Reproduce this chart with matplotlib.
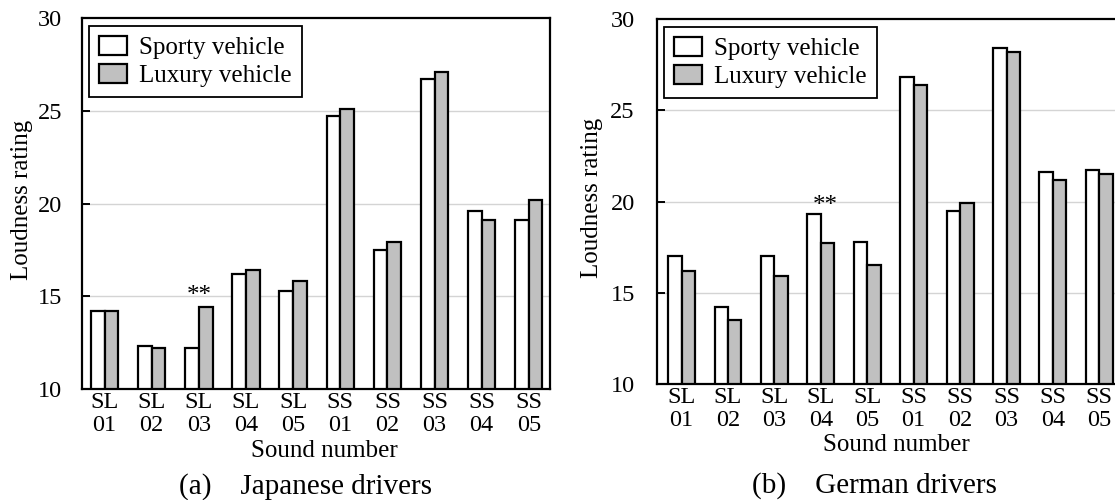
import numpy as np
import matplotlib
matplotlib.use('Agg')
import matplotlib.pyplot as plt

plt.rcParams['font.family'] = ['Liberation Serif', 'DejaVu Serif']

# Sound numbers and ratings
sounds = ['SL\n01', 'SL\n02', 'SL\n03', 'SL\n04', 'SL\n05',
          'SS\n01', 'SS\n02', 'SS\n03', 'SS\n04', 'SS\n05']

jp_sporty = [14.2, 12.3, 12.2, 16.2, 15.3, 24.7, 17.5, 26.7, 19.6, 19.1]
jp_luxury = [14.2, 12.2, 14.4, 16.4, 15.8, 25.1, 17.9, 27.1, 19.1, 20.2]

de_sporty = [17.0, 14.2, 17.0, 19.3, 17.8, 26.8, 19.5, 28.4, 21.6, 21.7]
de_luxury = [16.2, 13.5, 15.9, 17.7, 16.5, 26.4, 19.9, 28.2, 21.2, 21.5]

series_names = ['Sporty vehicle', 'Luxury vehicle']
yticks = [10, 15, 20, 25, 30]

# significance marks: (index of sound, y of baseline)
jp_marks = [(2, 14.7)]
de_marks = [(3.1, 19.4)]

fig = plt.figure(figsize=(11.15, 5), dpi=100)
ax1 = fig.add_axes([0.0731, 0.222, 0.4206, 0.742])
ax2 = fig.add_axes([0.5892, 0.232, 0.4126, 0.730])


def draw_panel(ax, sporty, luxury, marks, xlim, tick_pad, ylab_x, xlab_y, xlab_x):
    x = np.arange(len(sounds))
    w = 0.29
    b1 = ax.bar(x - w / 2, sporty, w, color='white', edgecolor='black',
                linewidth=1.6, zorder=2)
    b2 = ax.bar(x + w / 2, luxury, w, color='#c0c0c0', edgecolor='black',
                linewidth=1.6, zorder=2)
    ax.set_xlim(*xlim)
    ax.set_ylim(10, 30)
    ax.set_yticks(yticks)
    ax.set_xticks(x)
    ax.set_xticklabels(sounds, fontsize=17.5, linespacing=1.15)
    ax.tick_params(axis='x', length=0, pad=2)
    ax.tick_params(axis='y', direction='in', length=6, width=1.4,
                   labelsize=17.5, pad=tick_pad)
    for yv in yticks[1:-1]:
        ax.axhline(yv, color='#d4d4d4', linewidth=1.0, zorder=0)
    for s in ax.spines.values():
        s.set_linewidth(1.6)
    ax.set_ylabel('Loudness rating', fontsize=18)
    ax.yaxis.set_label_coords(ylab_x, 0.51)
    ax.set_xlabel('Sound number', fontsize=18)
    ax.xaxis.set_label_coords(xlab_x, xlab_y)
    for xi, yi in marks:
        ax.text(xi, yi, '**', ha='center', va='baseline', fontsize=18, zorder=3)
    leg = ax.legend([b1, b2], series_names, loc='upper left', fontsize=18,
                    frameon=True, fancybox=False, framealpha=1,
                    edgecolor='black', handlelength=1.12, handleheight=0.8,
                    handletextpad=0.48, borderpad=0.4, labelspacing=0.2,
                    borderaxespad=0.3)
    leg.get_frame().set_linewidth(1.3)


draw_panel(ax1, jp_sporty, jp_luxury, jp_marks, (-0.49, 9.46), 14, -0.103, -0.138, 0.517)
draw_panel(ax2, de_sporty, de_luxury, de_marks, (-0.53, 9.38), 16, -0.117, -0.138, 0.52)

fig.text(0.2744, 0.012, '(a)    Japanese drivers', ha='center', va='baseline', fontsize=21)
fig.text(0.784, 0.014, '(b)    German drivers', ha='center', va='baseline', fontsize=21)

fig.savefig('out.png', dpi=100)
